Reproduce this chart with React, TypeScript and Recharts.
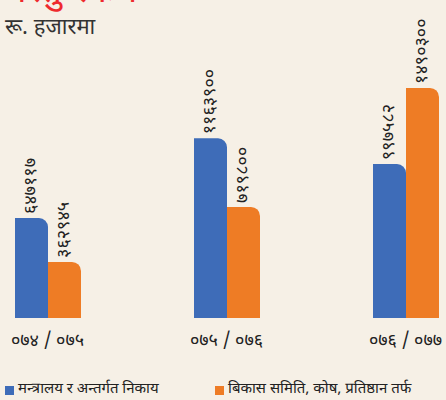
import React from "react";
import { BarChart, Bar, XAxis, YAxis, LabelList } from "recharts";

const years = ["०७४ / ०७५", "०७५ / ०७६", "०७६ / ०७७"];
const ministry = [647117, 1163900, 997582];
const committee = [362945, 719800, 1490300];

const seriesNames = ["मन्त्रालय र अन्तर्गत निकाय", "बिकास समिति, कोष, प्रतिष्ठान तर्फ"];
const COLORS = ["#3e6cb8", "#ee7c25"];

const DIGITS = "०१२३४५६७८९";
const toNepali = (n: number) =>
  String(n).replace(/[0-9]/g, (d) => DIGITS[Number(d)]);

const data = years.map((y, i) => ({
  year: y,
  ministry: ministry[i],
  committee: committee[i],
}));

const FONT = "'Noto Sans Devanagari', 'Lohit Devanagari', 'Noto Sans', 'DejaVu Sans', sans-serif";

const VerticalLabel = (props: any) => {
  const { x, y, width, value } = props;
  const cx = x + width / 2;
  const cy = y - 4;
  return (
    <text
      x={cx}
      y={cy}
      transform={`rotate(-90 ${cx} ${cy})`}
      textAnchor="start"
      dominantBaseline="central"
      fontSize={18}
      fill="#222"
      fontFamily={FONT}
    >
      {toNepali(value)}
    </text>
  );
};

const YearTick = (props: any) => {
  const { x, y, payload } = props;
  return (
    <text
      x={x}
      y={y + 20}
      textAnchor="middle"
      fontSize={18}
      fill="#222"
      fontFamily={FONT}
    >
      {payload.value}
    </text>
  );
};

export default function App() {
  return (
    <div
      style={{
        position: "absolute",
        left: 0,
        top: 0,
        width: 446,
        height: 400,
        background: "#f6f0e6",
        overflow: "hidden",
        fontFamily: FONT,
      }}
    >
      <div
        style={{
          position: "absolute",
          left: 6,
          top: -25,
          fontSize: 37,
          lineHeight: "37px",
          color: "#ee2a2e",
          whiteSpace: "nowrap",
        }}
      >
        वस्तु रकम
      </div>
      <div
        style={{
          position: "absolute",
          left: 5,
          top: 17,
          fontSize: 22,
          lineHeight: "24px",
          color: "#333",
          whiteSpace: "nowrap",
        }}
      >
        रू. हजारमा
      </div>

      <BarChart
        width={446}
        height={400}
        data={data}
        margin={{ top: 71, right: -49, left: -42, bottom: 52 }}
        barGap={0}
        barCategoryGap={57}
      >
        <XAxis
          dataKey="year"
          axisLine={false}
          tickLine={false}
          height={30}
          tick={<YearTick />}
          interval={0}
        />
        <YAxis hide domain={[0, 1600000]} />
        <Bar
          dataKey="ministry"
          fill={COLORS[0]}
          radius={[0, 9, 0, 0]}
          isAnimationActive={false}
        >
          <LabelList dataKey="ministry" content={VerticalLabel} />
        </Bar>
        <Bar
          dataKey="committee"
          fill={COLORS[1]}
          radius={[0, 9, 0, 0]}
          isAnimationActive={false}
        >
          <LabelList dataKey="committee" content={VerticalLabel} />
        </Bar>
      </BarChart>

      <div
        style={{
          position: "absolute",
          top: 381,
          left: 0,
          width: 446,
          fontSize: 15,
          lineHeight: "18px",
          color: "#222",
        }}
      >
        {seriesNames.map((name, i) => (
          <div
            key={name}
            style={{
              position: "absolute",
              left: i === 0 ? 5 : 215,
              top: 0,
              display: "flex",
              alignItems: "center",
              whiteSpace: "nowrap",
            }}
          >
            <span
              style={{
                display: "inline-block",
                width: 9,
                height: 9,
                background: COLORS[i],
                marginRight: 4,
              }}
            />
            {name}
          </div>
        ))}
      </div>
    </div>
  );
}
